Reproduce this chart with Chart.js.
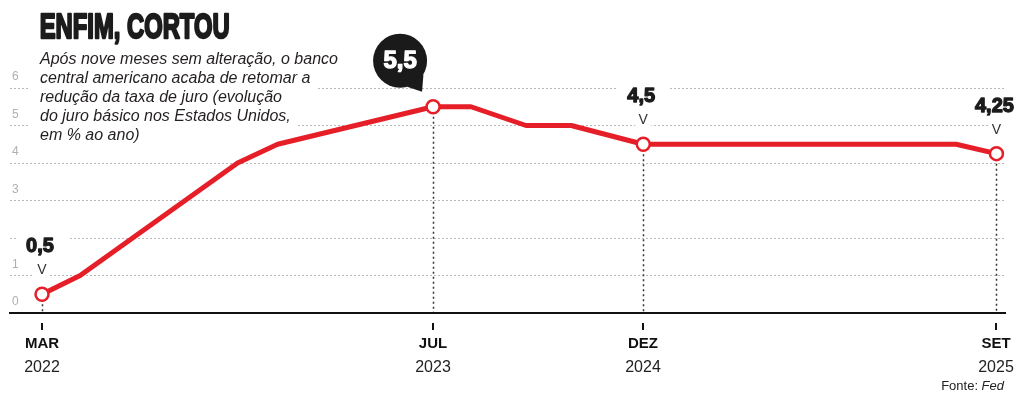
<!DOCTYPE html>
<html lang="pt-BR">
<head>
<meta charset="utf-8">
<title>Enfim, cortou</title>
<script src="https://cdn.jsdelivr.net/npm/chart.js@4.4.1/dist/chart.umd.min.js"></script>
<style>
  html, body { margin:0; padding:0; background:#fff; }
  #wrap { position:relative; width:1023px; height:400px; }
</style>
</head>
<body>
<div id="wrap"><canvas id="juroChart"></canvas></div>
<script>
// posição no eixo horizontal (MAR/2022 = 0) e taxa básica (% ao ano)
const xPos  = [0, 1.56, 8.0, 9.64, 16, 17.55, 19.8, 21.65, 24.6, 37.4, 39.05];
const rates = [0.5, 1.0, 4.0, 4.5, 5.5, 5.5, 5.0, 5.0, 4.5, 4.5, 4.25];

const tickPos    = [0, 16, 24.6, 39.05];
const tickMonths = ['MAR', 'JUL', 'DEZ', 'SET'];
const tickYears  = ['2022', '2023', '2024', '2025'];

const highlightIdx   = [0, 4, 8, 10];
const highlightLabel = ['0,5', '5,5', '4,5', '4,25'];
const bubbleIdx = 4;

const yHidden = [2];

const TITLE = 'ENFIM, CORTOU';
const SUBTITLE = [
  'Após nove meses sem alteração, o banco',
  'central americano acaba de retomar a',
  'redução da taxa de juro (evolução',
  'do juro básico nos Estados Unidos,',
  'em % ao ano)'
];

const RED = '#e61e28';
const INK = '#1c1c1c';
const SANS = '"Liberation Sans", Arial, sans-serif';

const decor = {
  id: 'decor',
  beforeDatasetsDraw(chart){
    const { ctx, chartArea, scales:{ x, y } } = chart;
    ctx.save();

    // subtítulo com fundo branco por cima das linhas de grade
    ctx.font = `italic 16px ${SANS}`;
    ctx.textAlign = 'left';
    ctx.textBaseline = 'alphabetic';
    SUBTITLE.forEach((line, i) => {
      const base = 64 + i * 19;
      const w = ctx.measureText(line).width;
      ctx.fillStyle = '#fff';
      ctx.fillRect(30, base - 15, w + 16, 21);
      ctx.fillStyle = '#231f20';
      ctx.fillText(line, 40, base);
    });

    // linhas pontilhadas verticais até o eixo
    ctx.strokeStyle = '#333';
    ctx.lineWidth = 1.5;
    ctx.setLineDash([2, 3]);
    highlightIdx.forEach(i => {
      const px = Math.round(x.getPixelForValue(xPos[i])) + 0.5;
      ctx.beginPath();
      ctx.moveTo(px, y.getPixelForValue(rates[i]));
      ctx.lineTo(px, chartArea.bottom - 1);
      ctx.stroke();
    });
    ctx.setLineDash([]);

    // rótulos de valor (menos o balão)
    highlightIdx.forEach((i, k) => {
      if (i === bubbleIdx) return;
      const px = x.getPixelForValue(xPos[i]);
      const py = y.getPixelForValue(rates[i]);
      const txt = highlightLabel[k];
      ctx.font = `bold 20px ${SANS}`;
      const w = ctx.measureText(txt).width;
      const base = py - 42;
      ctx.fillStyle = '#fff';
      ctx.fillRect(px - w / 2 - 12, base - 20, w + 24, 25);
      ctx.fillRect(px - 8, py - 34, 16, 16);
      ctx.fillStyle = INK;
      ctx.strokeStyle = INK;
      ctx.lineWidth = 1.3;
      ctx.lineJoin = 'round';
      ctx.textAlign = 'center';
      ctx.fillText(txt, px - 2, base);
      ctx.strokeText(txt, px - 2, base);
      ctx.font = `14px ${SANS}`;
      ctx.fillStyle = '#333';
      ctx.fillText('V', px, py - 20);
    });
    ctx.restore();
  },
  afterDatasetsDraw(chart){
    const { ctx, scales:{ x, y } } = chart;
    const k = highlightIdx.indexOf(bubbleIdx);
    const px = x.getPixelForValue(xPos[bubbleIdx]);
    const py = y.getPixelForValue(rates[bubbleIdx]);
    const cx = px - 33, cy = py - 46, r = 27;
    ctx.save();
    ctx.fillStyle = '#1a1a1a';
    ctx.beginPath();
    ctx.arc(cx, cy, r, 0, Math.PI * 2);
    ctx.fill();
    const a1 = 30 * Math.PI / 180, a2 = 75 * Math.PI / 180;
    ctx.beginPath();
    ctx.moveTo(cx + r * Math.cos(a1), cy + r * Math.sin(a1));
    ctx.lineTo(px - 11, py - 15);
    ctx.lineTo(cx + r * Math.cos(a2), cy + r * Math.sin(a2));
    ctx.closePath();
    ctx.fill();
    ctx.font = `bold 24px ${SANS}`;
    ctx.textAlign = 'center';
    ctx.textBaseline = 'middle';
    ctx.fillStyle = '#fff';
    ctx.strokeStyle = '#fff';
    ctx.lineWidth = 1.3;
    ctx.lineJoin = 'round';
    ctx.fillText(highlightLabel[k], cx, cy + 1);
    ctx.strokeText(highlightLabel[k], cx, cy + 1);
    ctx.restore();
  },
  afterDraw(chart){
    const { ctx, chartArea, scales:{ x } } = chart;
    ctx.save();

    // título condensado
    ctx.save();
    ctx.translate(39, 38);
    ctx.scale(0.68, 1);
    ctx.font = `900 35px ${SANS}`;
    ctx.fillStyle = INK;
    ctx.strokeStyle = INK;
    ctx.lineWidth = 2.4;
    ctx.lineJoin = 'round';
    ctx.textAlign = 'left';
    ctx.textBaseline = 'alphabetic';
    ctx.fillText(TITLE, 1, 0);
    ctx.strokeText(TITLE, 1, 0);
    ctx.restore();

    // rótulos do eixo x
    ctx.textAlign = 'center';
    ctx.textBaseline = 'alphabetic';
    tickPos.forEach((v, i) => {
      const px = Math.round(x.getPixelForValue(v));
      ctx.fillStyle = '#111';
      ctx.fillRect(px - 1, chartArea.bottom + 10, 2, 7);
      ctx.font = `bold 15px ${SANS}`;
      ctx.fillText(tickMonths[i], px, chartArea.bottom + 35);
      ctx.font = `16px ${SANS}`;
      ctx.fillStyle = '#222';
      ctx.fillText(tickYears[i], px, chartArea.bottom + 59);
    });

    // fonte
    ctx.font = `italic 13px ${SANS}`;
    ctx.textAlign = 'right';
    ctx.fillStyle = '#222';
    const fedW = ctx.measureText('Fed').width;
    ctx.fillText('Fed', 1004, 390);
    ctx.font = `13px ${SANS}`;
    ctx.fillText('Fonte: ', 1004 - fedW, 390);
    ctx.restore();
  }
};

new Chart(document.getElementById('juroChart'), {
  type: 'line',
  data: {
    datasets: [{
      label: 'Juro básico EUA',
      data: xPos.map((v, i) => ({ x: v, y: rates[i] })),
      borderColor: RED,
      borderWidth: 5,
      borderJoinStyle: 'round',
      tension: 0,
      pointRadius: ctx => highlightIdx.includes(ctx.dataIndex) ? 6.5 : 0,
      pointHoverRadius: ctx => highlightIdx.includes(ctx.dataIndex) ? 6.5 : 0,
      pointBackgroundColor: '#fff',
      pointBorderColor: RED,
      pointBorderWidth: 2.5,
      clip: false
    }]
  },
  options: {
    responsive: true,
    maintainAspectRatio: false,
    animation: false,
    events: [],
    layout: { autoPadding: false, padding: { top: 88, right: 18, bottom: 87, left: 10 } },
    plugins: { legend: { display: false }, tooltip: { enabled: false } },
    scales: {
      x: {
        type: 'linear',
        min: -1.31,
        max: 39.4,
        afterFit: s => { s.height = 0; },
        grid: { display: false },
        ticks: { display: false },
        border: { display: true, color: '#111', width: 2 }
      },
      y: {
        min: 0,
        max: 6,
        afterFit: s => { s.width = 0; },
        border: { display: false, dash: [2, 2] },
        grid: {
          color: c => c.tick.value === 0 ? 'rgba(0,0,0,0)' : '#b8b8b8',
          lineWidth: 1,
          drawTicks: false
        },
        ticks: {
          stepSize: 1,
          mirror: true,
          padding: 2,
          labelOffset: -11,
          color: '#b0b0b0',
          font: { family: SANS, size: 12 },
          callback: v => yHidden.includes(v) ? '' : String(v)
        }
      }
    }
  },
  plugins: [decor]
});
</script>
</body>
</html>
